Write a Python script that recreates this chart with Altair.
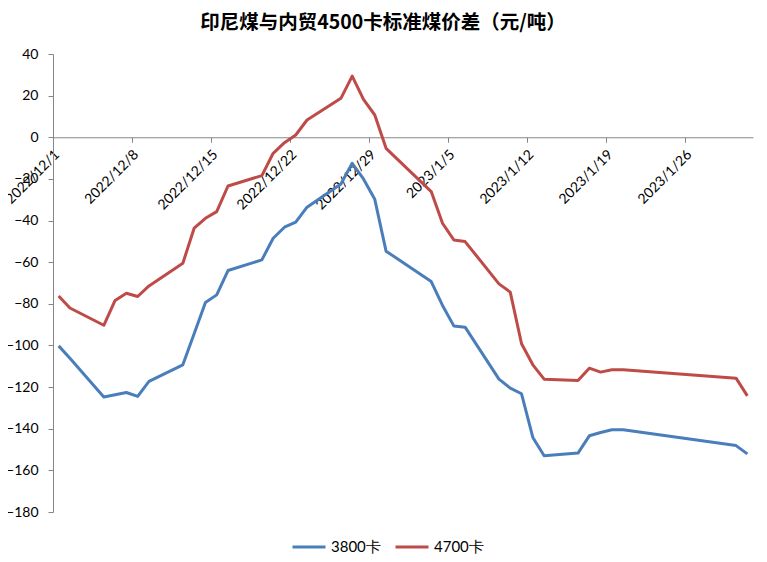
import altair as alt
import pandas as pd

dates = [
    "2022/12/01", "2022/12/02", "2022/12/05", "2022/12/06", "2022/12/07", "2022/12/08", "2022/12/09",
    "2022/12/12", "2022/12/13", "2022/12/14", "2022/12/15", "2022/12/16",
    "2022/12/19", "2022/12/20", "2022/12/21", "2022/12/22", "2022/12/23",
    "2022/12/26", "2022/12/27", "2022/12/28", "2022/12/29", "2022/12/30",
    "2023/01/03", "2023/01/04", "2023/01/05", "2023/01/06",
    "2023/01/09", "2023/01/10", "2023/01/11", "2023/01/12", "2023/01/13",
    "2023/01/16", "2023/01/17", "2023/01/18", "2023/01/19", "2023/01/20",
    "2023/01/30", "2023/01/31",
]
v3800 = [
    -100.2, -106.2, -124.8, -123.7, -122.6, -124.5, -117.3,
    -109.3, -94.4, -79.4, -75.7, -64.0,
    -58.9, -48.5, -43.2, -40.8, -33.6,
    -22.4, -12.5, -20.0, -29.8, -54.7,
    -69.3, -80.8, -90.6, -91.2,
    -116.2, -120.5, -123.2, -144.2, -153.0,
    -151.7, -143.4, -141.8, -140.5, -140.5,
    -148.1, -152.1,
]
v4700 = [
    -76.2, -82.0, -90.3, -78.4, -74.9, -76.5, -71.4,
    -60.5, -43.7, -38.9, -35.7, -23.4,
    -18.4, -7.7, -2.6, 1.1, 8.3,
    18.7, 29.4, 18.2, 10.7, -5.3,
    -26.1, -41.3, -49.3, -50.1,
    -70.4, -74.4, -99.2, -109.3, -116.2,
    -116.8, -110.9, -112.8, -111.7, -111.7,
    -115.7, -124.2,
]
series_names = ["3800卡", "4700卡"]
series_colors = ["#4A7EBB", "#BE4B48"]
tick_dates = [(2022, 12, 1), (2022, 12, 8), (2022, 12, 15), (2022, 12, 22), (2022, 12, 29),
              (2023, 1, 5), (2023, 1, 12), (2023, 1, 19), (2023, 1, 26)]
y_ticks = list(range(-180, 41, 20))
title_text = "印尼煤与内贸4500卡标准煤价差（元/吨）"

rows = []
for d, a, b in zip(dates, v3800, v4700):
    rows.append({"date": d, "series": series_names[0], "value": a})
    rows.append({"date": d, "series": series_names[1], "value": b})
df = pd.DataFrame(rows)

W, H = 700, 458
zero_from_top = H * 40 / 220

x_axis = alt.Axis(
    values=[alt.DateTime(year=y, month=m, date=d) for (y, m, d) in tick_dates],
    format="%Y/%-m/%-d",
    labelAngle=-45, labelAlign="right", labelBaseline="middle",
    labelFont="Lato", labelFontSize=14, labelColor="black",
    labelPadding=10, labelOffset=4,
    labelOverlap=False, labelBound=False, labelFlush=False,
    tickSize=5, tickColor="#868686", domainColor="#868686",
    grid=False, title=None,
    offset=-(H - zero_from_top),
)
y_axis = alt.Axis(
    values=y_ticks,
    labelFont="Lato", labelFontSize=14, labelColor="black",
    labelPadding=10, tickSize=5, tickColor="#868686", domainColor="#868686",
    grid=False, title=None,
)

chart = (
    alt.Chart(df)
    .transform_calculate(t="timeOffset('hours', toDate(datum.date), 12)")
    .mark_line(strokeWidth=3, strokeJoin="round")
    .encode(
        x=alt.X("t:T", axis=x_axis,
                scale=alt.Scale(domain=[alt.DateTime(year=2022, month=12, date=1),
                                        alt.DateTime(year=2023, month=2, date=1)])),
        y=alt.Y("value:Q", axis=y_axis,
                scale=alt.Scale(domain=[-180, 40], nice=False, zero=False)),
        color=alt.Color("series:N",
                        scale=alt.Scale(domain=series_names, range=series_colors),
                        legend=alt.Legend(orient="none", legendX=238, legendY=475,
                                          direction="horizontal", title=None,
                                          symbolType="stroke", symbolSize=1089,
                                          symbolStrokeWidth=3,
                                          labelFont="Lato", labelFontSize=15,
                                          labelColor="black", labelOffset=4,
                                          columnPadding=8)),
    )
    .properties(
        width=W, height=H,
        title=alt.TitleParams(text=title_text, font="Noto Sans CJK SC", fontSize=19.5,
                              fontWeight="bold", color="black", anchor="middle",
                              frame="group", dx=-20, offset=14),
        autosize=alt.AutoSizeParams(type="none"),
        padding={"left": 45, "top": 46, "right": 4, "bottom": 42},
    )
    .configure_view(strokeWidth=0)
)

chart.save("out.html", embed_options={"renderer": "svg", "actions": False})
